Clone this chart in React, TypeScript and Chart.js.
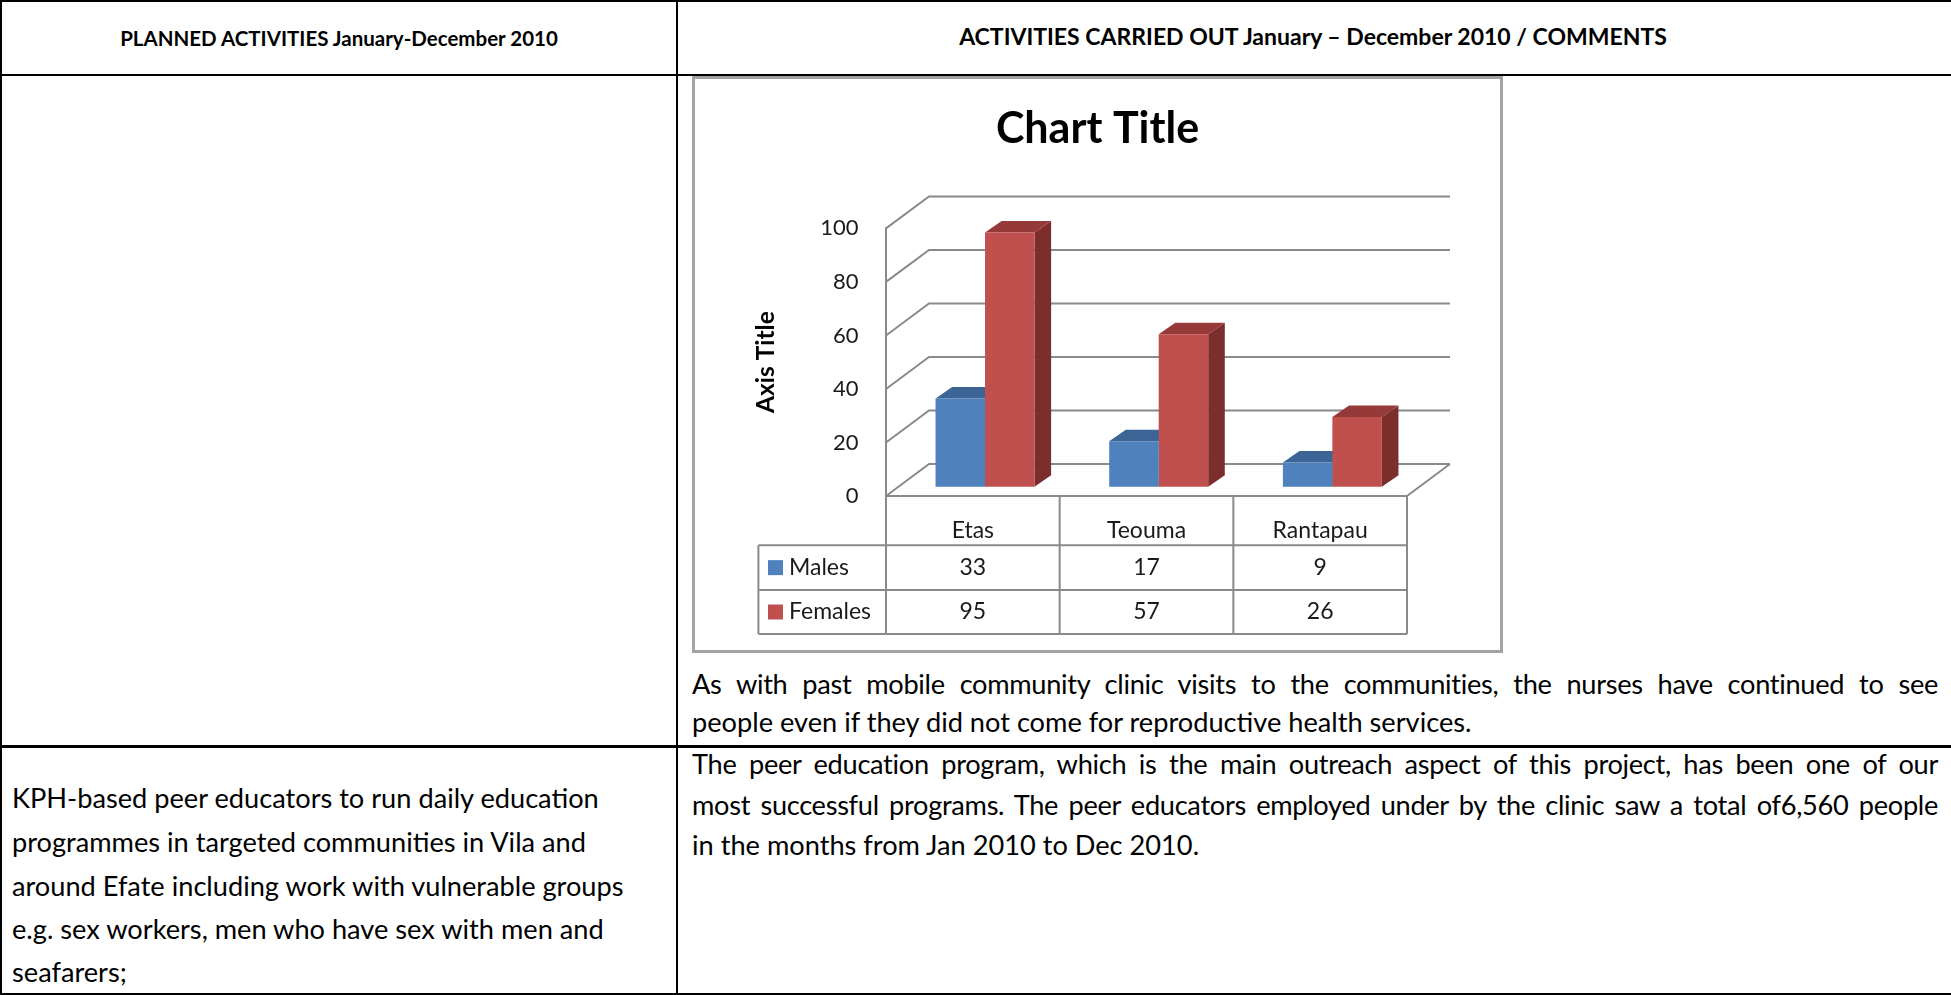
import React, { useEffect, useRef } from 'react';
import { Chart, registerables } from 'chart.js';

Chart.register(...registerables);

// ---- data ----
const categories = ['Etas', 'Teouma', 'Rantapau'];
const malesValues = [33, 17, 9];
const femalesValues = [95, 57, 26];
const seriesLabels = ['Males', 'Females'];
const yMin = 0;
const yMax = 100;
const yStep = 20;
const chartTitle = 'Chart Title';
const axisTitle = 'Axis Title';

// ---- styles ----
const FONT = 'Lato, "Open Sans", "Liberation Sans", sans-serif';
const GRID = '#8a8a8a';
const TEXT = '#1a1a1a';
const WALL = { dx: 43, dy: -32 };
const BAR_SHIFT = { dx: 12.2, dy: -9.3 };
const BAR_DEPTH = { dx: 16.6, dy: -11.5 };
const faceColors = [
  { front: '#4f81bd', top: '#3c6595', side: '#335784' },
  { front: '#c0504d', top: '#953a38', side: '#7b2e2c' },
];

const threeD = {
  id: 'threeD',
  beforeDatasetsDraw(chart: any) {
    const { ctx, chartArea: a, scales } = chart;
    const y = scales.y;
    ctx.save();
    ctx.strokeStyle = GRID;
    ctx.lineWidth = 2;
    ctx.beginPath();
    for (const t of y.ticks) {
      const py = y.getPixelForValue(t.value);
      ctx.moveTo(a.left, py);
      ctx.lineTo(a.left + WALL.dx, py + WALL.dy);
      ctx.lineTo(a.right + WALL.dx, py + WALL.dy);
    }
    ctx.moveTo(a.right, a.bottom);
    ctx.lineTo(a.right + WALL.dx, a.bottom + WALL.dy);
    ctx.stroke();
    ctx.restore();

    ctx.save();
    ctx.translate(BAR_SHIFT.dx, BAR_SHIFT.dy);
    chart.data.datasets.forEach((_ds: any, di: number) => {
      const meta = chart.getDatasetMeta(di);
      const c = faceColors[di];
      meta.data.forEach((bar: any) => {
        const { x, y: top, base, width } = bar.getProps(['x', 'y', 'base', 'width'], true);
        const l = x - width / 2;
        const r = x + width / 2;
        ctx.fillStyle = c.side;
        ctx.beginPath();
        ctx.moveTo(r, top);
        ctx.lineTo(r + BAR_DEPTH.dx, top + BAR_DEPTH.dy);
        ctx.lineTo(r + BAR_DEPTH.dx, base + BAR_DEPTH.dy);
        ctx.lineTo(r, base);
        ctx.closePath();
        ctx.fill();
        ctx.fillStyle = c.top;
        ctx.beginPath();
        ctx.moveTo(l, top);
        ctx.lineTo(r, top);
        ctx.lineTo(r + BAR_DEPTH.dx, top + BAR_DEPTH.dy);
        ctx.lineTo(l + BAR_DEPTH.dx, top + BAR_DEPTH.dy);
        ctx.closePath();
        ctx.fill();
      });
    });
  },
  afterDatasetsDraw(chart: any) {
    chart.ctx.restore();
  },
  afterDraw(chart: any) {
    const { ctx, chartArea: a, scales } = chart;
    const x = scales.x;
    const n = categories.length;
    const bounds: number[] = [a.left];
    for (let i = 0; i < n - 1; i++) {
      bounds.push((x.getPixelForValue(i) + x.getPixelForValue(i + 1)) / 2);
    }
    bounds.push(a.right);
    const rows = [a.bottom + 49.3, a.bottom + 94, a.bottom + 138];
    const legendLeft = a.left - 127.6;

    ctx.save();
    ctx.strokeStyle = GRID;
    ctx.lineWidth = 2;
    ctx.beginPath();
    for (const bx of bounds) {
      ctx.moveTo(bx, a.bottom);
      ctx.lineTo(bx, rows[2]);
    }
    ctx.moveTo(legendLeft, rows[0]);
    ctx.lineTo(legendLeft, rows[2]);
    for (const ry of rows) {
      ctx.moveTo(legendLeft, ry);
      ctx.lineTo(a.right, ry);
    }
    ctx.stroke();

    const series = [malesValues, femalesValues];
    ctx.font = `23px ${FONT}`;
    ctx.textBaseline = 'middle';
    series.forEach((vals, si) => {
      const cy = (rows[si] + rows[si + 1]) / 2;
      ctx.fillStyle = faceColors[si].front;
      ctx.fillRect(legendLeft + 9.6, cy - 7.5, 15, 15);
      ctx.fillStyle = TEXT;
      ctx.textAlign = 'left';
      ctx.fillText(seriesLabels[si], legendLeft + 30.6, cy);
      ctx.textAlign = 'center';
      vals.forEach((v, i) => {
        ctx.fillText(String(v), x.getPixelForValue(i), cy);
      });
    });
    ctx.restore();
  },
};

function ChartBox() {
  const ref = useRef<HTMLCanvasElement | null>(null);
  useEffect(() => {
    if (!ref.current) return;
    Chart.defaults.font.family = FONT;
    const chart = new Chart(ref.current, {
      type: 'bar',
      data: {
        labels: categories,
        datasets: [
          {
            label: seriesLabels[0],
            data: malesValues,
            backgroundColor: faceColors[0].front,
            categoryPercentage: 0.57,
            barPercentage: 1.0,
            clip: false as any,
          },
          {
            label: seriesLabels[1],
            data: femalesValues,
            backgroundColor: faceColors[1].front,
            categoryPercentage: 0.57,
            barPercentage: 1.0,
            clip: false as any,
          },
        ],
      },
      options: {
        responsive: false,
        animation: false,
        events: [],
        layout: { padding: 0 },
        plugins: {
          legend: { display: false },
          tooltip: { enabled: false },
          title: {
            display: true,
            text: chartTitle,
            color: '#000',
            font: { family: FONT, size: 43, weight: 'bold' },
            padding: { top: 24.6, bottom: 73.2 },
          },
        },
        scales: {
          x: {
            type: 'category',
            offset: true,
            grid: { display: false, drawTicks: false },
            border: { display: true, color: GRID, width: 2 },
            ticks: { color: TEXT, font: { size: 23 }, padding: 20.9, maxRotation: 0 },
            afterFit: (s: any) => {
              s.height = 154;
            },
          },
          y: {
            min: yMin,
            max: yMax,
            grid: { display: false, drawTicks: false },
            border: { display: true, color: GRID, width: 2 },
            ticks: { stepSize: yStep, color: TEXT, font: { size: 22 }, padding: 27.5 },
            title: {
              display: true,
              text: axisTitle,
              color: '#000',
              font: { family: FONT, size: 24.5, weight: 'bold' },
              padding: { top: 56, bottom: 0 },
            },
            afterFit: (s: any) => {
              s.width = 191;
            },
          },
          yRight: {
            type: 'linear',
            position: 'right',
            display: true,
            grid: { display: false, drawTicks: false },
            border: { display: false },
            ticks: { display: false },
            afterFit: (s: any) => {
              s.width = 93;
            },
          },
        },
      },
      plugins: [threeD],
    });
    return () => chart.destroy();
  }, []);
  return <canvas ref={ref} width={805} height={571} style={{ width: 805, height: 571, display: 'block' }} />;
}

const BODY = 27.2;

function Line(props: {
  text: string;
  left: number;
  width: number;
  baseline: number;
  size?: number;
  bold?: boolean;
  align?: string;
  justify?: boolean;
}) {
  const size = props.size ?? BODY;
  const lh = size * 1.2;
  const style: any = {
    position: 'absolute',
    left: props.left,
    width: props.width,
    top: props.baseline - size * 0.987,
    fontSize: size,
    lineHeight: `${lh}px`,
    height: lh,
    fontWeight: props.bold ? 'bold' : 'normal',
    textAlign: props.justify ? 'justify' : props.align ?? 'left',
    textAlignLast: props.justify ? 'justify' : props.align ?? 'left',
    whiteSpace: props.justify ? 'normal' : 'nowrap',
    letterSpacing: props.justify ? '-0.3px' : 'normal',
    wordSpacing: props.justify ? '-1.5px' : 'normal',
    color: '#000',
  };
  return <div style={style}>{props.text}</div>;
}

const rule = (left: number, top: number, width: number, height: number) => (
  <div style={{ position: 'absolute', left, top, width, height, background: '#000' }} />
);

export default function App() {
  return (
    <div
      style={{
        position: 'absolute',
        left: 0,
        top: 0,
        width: 1951,
        height: 995,
        overflow: 'hidden',
        background: '#fff',
        fontFamily: FONT,
      }}
    >
      {rule(0, 0, 1951, 2)}
      {rule(0, 74, 1951, 2)}
      {rule(0, 745, 1951, 3)}
      {rule(0, 993, 1951, 2)}
      {rule(0, 0, 2, 995)}
      {rule(676, 0, 2, 995)}

      <Line text="PLANNED ACTIVITIES January-December 2010" left={2} width={674} baseline={46} size={20.5} bold align="center" />
      <Line text="ACTIVITIES CARRIED OUT January – December 2010 / COMMENTS" left={678} width={1270} baseline={46} size={23} bold align="center" />

      <div
        style={{
          position: 'absolute',
          left: 692,
          top: 76,
          width: 811,
          height: 577,
          border: '3px solid #a3a3a3',
          boxSizing: 'border-box',
          background: '#fff',
        }}
      >
        <ChartBox />
      </div>

      <Line text="As with past mobile community clinic visits to the communities, the nurses have continued to see" left={692} width={1246} baseline={695} justify />
      <Line text="people even if they did not come for reproductive health services." left={692} width={1246} baseline={733} />

      <Line text="KPH-based peer educators to run daily education" left={12} width={650} baseline={809} />
      <Line text="programmes in targeted communities in Vila and" left={12} width={650} baseline={853} />
      <Line text="around Efate including work with vulnerable groups" left={12} width={650} baseline={896.5} />
      <Line text="e.g. sex workers, men who have sex with men and" left={12} width={650} baseline={940} />
      <Line text="seafarers;" left={12} width={650} baseline={983} />

      <Line text="The peer education program, which is the main outreach aspect of this project, has been one of our" left={692} width={1246} baseline={774.5} justify />
      <Line text="most successful programs. The peer educators employed under by the clinic saw a total of6,560 people" left={692} width={1246} baseline={816} justify />
      <Line text="in the months from Jan 2010 to Dec 2010." left={692} width={1246} baseline={856} />
    </div>
  );
}
